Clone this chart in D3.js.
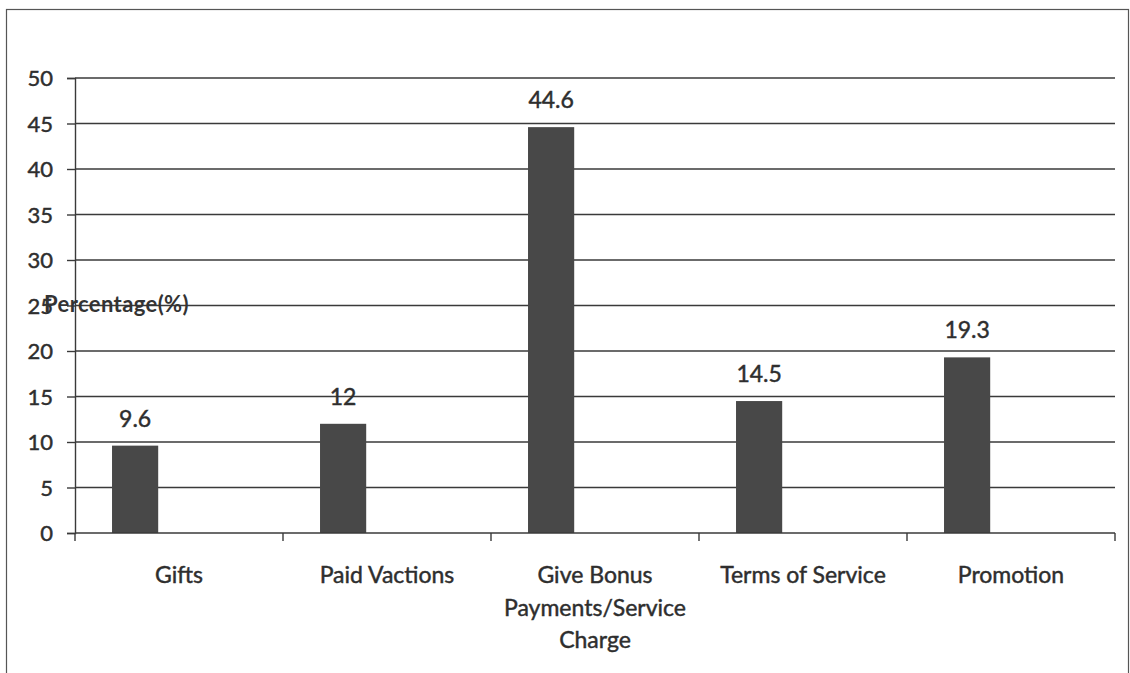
<!DOCTYPE html>
<html>
<head>
<meta charset="utf-8">
<script src="https://cdn.jsdelivr.net/npm/d3@7/dist/d3.min.js"></script>
<style>
  html, body { margin: 0; padding: 0; background: #fff; }
  svg { display: block; font-family: Lato, "Open Sans", sans-serif; }
  .txt { stroke: #2e2e2e; stroke-width: 0.45px; paint-order: stroke; }
</style>
</head>
<body>
<svg id="chart" width="1130" height="673"></svg>
<script>
// Reward types and the share of respondents choosing each
const categories = [
  ["Gifts"],
  ["Paid Vactions"],
  ["Give Bonus", "Payments/Service", "Charge"],
  ["Terms of Service"],
  ["Promotion"]
];
const values = [9.6, 12, 44.6, 14.5, 19.3];
const yTicks = [0, 5, 10, 15, 20, 25, 30, 35, 40, 45, 50];
const yTitle = "Percentage(%)";

const svg = d3.select("#chart");
const W = 1130, H = 673;
const plot = { left: 75, right: 1115, top: 78, bottom: 533 };
const ink = "#2e2e2e";
const lineInk = "#3a3a3a";
const fs = 23;

// Outer frame
svg.append("rect")
  .attr("x", 6.5).attr("y", 9.5)
  .attr("width", 1122).attr("height", H)
  .attr("fill", "none").attr("stroke", "#555").attr("stroke-width", 1.2);

const keys = categories.map((c, i) => i);
const x = d3.scaleBand().domain(keys).range([plot.left, plot.right]).paddingInner(0).paddingOuter(0);
const y = d3.scaleLinear().domain([0, 50]).range([plot.bottom, plot.top]);

// Left axis with short ticks, plus horizontal gridlines
const yAxis = d3.axisLeft(y).tickValues(yTicks).tickSize(8).tickPadding(14).tickFormat(d3.format("d"));
const gy = svg.append("g").attr("transform", `translate(${plot.left},0)`).call(yAxis);
gy.select(".domain").attr("stroke", lineInk).attr("stroke-width", 1.4);
gy.selectAll(".tick line").attr("stroke", lineInk).attr("stroke-width", 1.4);
gy.selectAll(".tick text")
  .attr("class", "txt")
  .attr("fill", ink).attr("font-size", 22).attr("font-family", "Lato, sans-serif").attr("dy", "0.36em");

svg.append("g").selectAll("line").data(yTicks.filter(d => d > 0)).join("line")
  .attr("x1", plot.left).attr("x2", plot.right)
  .attr("y1", d => y(d)).attr("y2", d => y(d))
  .attr("stroke", lineInk).attr("stroke-width", 1.4);

// Bars, placed in the left part of each category band
const barOffset = 0.178, barWidth = 0.222;
svg.append("g").selectAll("rect").data(values).join("rect")
  .attr("x", (d, i) => x(i) + x.bandwidth() * barOffset)
  .attr("width", x.bandwidth() * barWidth)
  .attr("y", d => y(d))
  .attr("height", d => y(0) - y(d))
  .attr("fill", "#484848");

// Value labels above bars
svg.append("g").selectAll("text").data(values).join("text")
  .attr("class", "txt")
  .attr("x", (d, i) => x(i) + x.bandwidth() * (barOffset + barWidth / 2))
  .attr("y", d => y(d) - 19)
  .attr("text-anchor", "middle")
  .attr("font-size", fs)
  .attr("fill", ink)
  .text(d => d);

// Category axis with tick marks at band boundaries
const bx = svg.append("g");
bx.append("line")
  .attr("x1", plot.left).attr("x2", plot.right)
  .attr("y1", y(0)).attr("y2", y(0))
  .attr("stroke", lineInk).attr("stroke-width", 1.4);
bx.selectAll("line.bt").data(keys.concat([keys.length])).join("line")
  .attr("class", "bt")
  .attr("x1", d => plot.left + d * x.bandwidth())
  .attr("x2", d => plot.left + d * x.bandwidth())
  .attr("y1", y(0)).attr("y2", y(0) + 8)
  .attr("stroke", lineInk).attr("stroke-width", 1.4);

const labels = svg.append("g").selectAll("text").data(categories).join("text")
  .attr("class", "txt")
  .attr("x", (d, i) => x(i) + x.bandwidth() / 2)
  .attr("y", 583)
  .attr("text-anchor", "middle")
  .attr("font-size", fs)
  .attr("fill", ink);
labels.selectAll("tspan").data(d => d).join("tspan")
  .attr("x", function () { return this.parentNode.getAttribute("x"); })
  .attr("dy", (d, i) => i === 0 ? 0 : 32.5)
  .text(d => d);

// Axis title, drawn over the upper-left of the plot
svg.append("text")
  .attr("x", 44).attr("y", 312)
  .attr("font-size", 22)
  .attr("font-weight", "bold")
  .attr("letter-spacing", 0.4)
  .attr("fill", "#333")
  .text(yTitle);
</script>
</body>
</html>
